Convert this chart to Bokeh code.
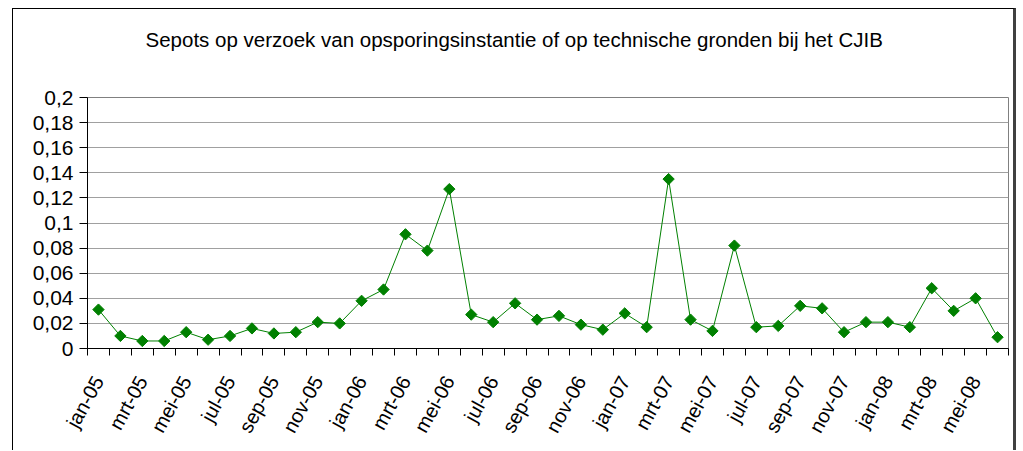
import math
from bokeh.plotting import figure
from bokeh.models import FixedTicker, CustomJSTickFormatter, Range1d, Title
from bokeh.embed import file_html
from bokeh.resources import INLINE

title = "Sepots op verzoek van opsporingsinstantie of op technische gronden bij het CJIB"

months = ["jan-05", "feb-05", "mrt-05", "apr-05", "mei-05", "jun-05", "jul-05", "aug-05",
          "sep-05", "okt-05", "nov-05", "dec-05",
          "jan-06", "feb-06", "mrt-06", "apr-06", "mei-06", "jun-06", "jul-06", "aug-06",
          "sep-06", "okt-06", "nov-06", "dec-06",
          "jan-07", "feb-07", "mrt-07", "apr-07", "mei-07", "jun-07", "jul-07", "aug-07",
          "sep-07", "okt-07", "nov-07", "dec-07",
          "jan-08", "feb-08", "mrt-08", "apr-08", "mei-08", "jun-08"]

values = [0.031, 0.010, 0.006, 0.006, 0.013, 0.007, 0.010, 0.016, 0.012, 0.013, 0.021, 0.020,
          0.038, 0.047, 0.091, 0.078, 0.127, 0.027, 0.021, 0.036, 0.023, 0.026, 0.019, 0.015,
          0.028, 0.017, 0.135, 0.023, 0.014, 0.082, 0.017, 0.018, 0.034, 0.032, 0.013, 0.021,
          0.021, 0.017, 0.048, 0.030, 0.040, 0.009]

y_ticks = [0, 0.02, 0.04, 0.06, 0.08, 0.1, 0.12, 0.14, 0.16, 0.18, 0.2]

n = len(months)
xs = [i + 0.5 for i in range(n)]
label_pos = [i + 0.5 for i in range(0, n, 2)]

FONT = "Liberation Sans"

p = figure(width=1004, height=442, output_backend="svg", toolbar_location=None,
           title=None,
           x_range=Range1d(0, n), y_range=Range1d(0, 0.2),
           min_border_left=74, min_border_right=9, min_border_top=88, min_border_bottom=103,
           background_fill_color="white", border_fill_color="white")

# outer chart-area border (drawn by CSS around the figure)
p.styles = {
    "margin-left": "12px",
    "margin-top": "8px",
    "border-left": "1px solid #000000",
    "border-top": "1px solid #000000",
    "border-right": "3px solid #404040",
}

# spacer between plot area and title, then the title itself
spacer = Title(text=" ", text_font_size="2px", standoff=38)
p.add_layout(spacer, "above")
main_title = Title(text=title, align="left", offset=58, standoff=10,
                   text_font=FONT, text_font_size="20.5px",
                   text_font_style="normal", text_color="black")
p.add_layout(main_title, "above")

p.outline_line_color = "#808080"
p.outline_line_width = 1

# grid
p.xgrid.visible = False
p.ygrid.ticker = FixedTicker(ticks=y_ticks)
p.ygrid.grid_line_color = "#a0a0a0"
p.ygrid.grid_line_width = 1

# y axis
p.yaxis.ticker = FixedTicker(ticks=y_ticks)
p.yaxis.formatter = CustomJSTickFormatter(
    code="return (Math.round(tick*100)/100).toString().replace('.', ',');")
p.yaxis.axis_line_color = "black"
p.yaxis.major_tick_line_color = "black"
p.yaxis.major_tick_out = 8
p.yaxis.major_tick_in = 0
p.yaxis.minor_tick_line_color = None
p.yaxis.major_label_text_font = FONT
p.yaxis.major_label_text_font_size = "21px"
p.yaxis.major_label_text_color = "black"
p.yaxis.major_label_standoff = 6

# x axis
p.xaxis.ticker = FixedTicker(ticks=label_pos, minor_ticks=list(range(n + 1)))
p.xaxis.formatter = CustomJSTickFormatter(args=dict(labels=months),
                                          code="return labels[Math.floor(tick)];")
p.xaxis.axis_line_color = "black"
p.xaxis.major_tick_line_color = None
p.xaxis.minor_tick_line_color = "black"
p.xaxis.minor_tick_out = 7
p.xaxis.minor_tick_in = 0
p.xaxis.major_label_orientation = math.radians(61)
p.xaxis.major_label_text_font = FONT
p.xaxis.major_label_text_font_size = "20px"
p.xaxis.major_label_text_color = "black"
p.xaxis.major_label_standoff = 22

# data
p.line(xs, values, line_color="#008000", line_width=1)
p.scatter(xs, values, marker="square", angle=math.pi / 4, size=8,
          fill_color="#008000", line_color="#008000")

open("out.html", "w").write(file_html(p, INLINE))
